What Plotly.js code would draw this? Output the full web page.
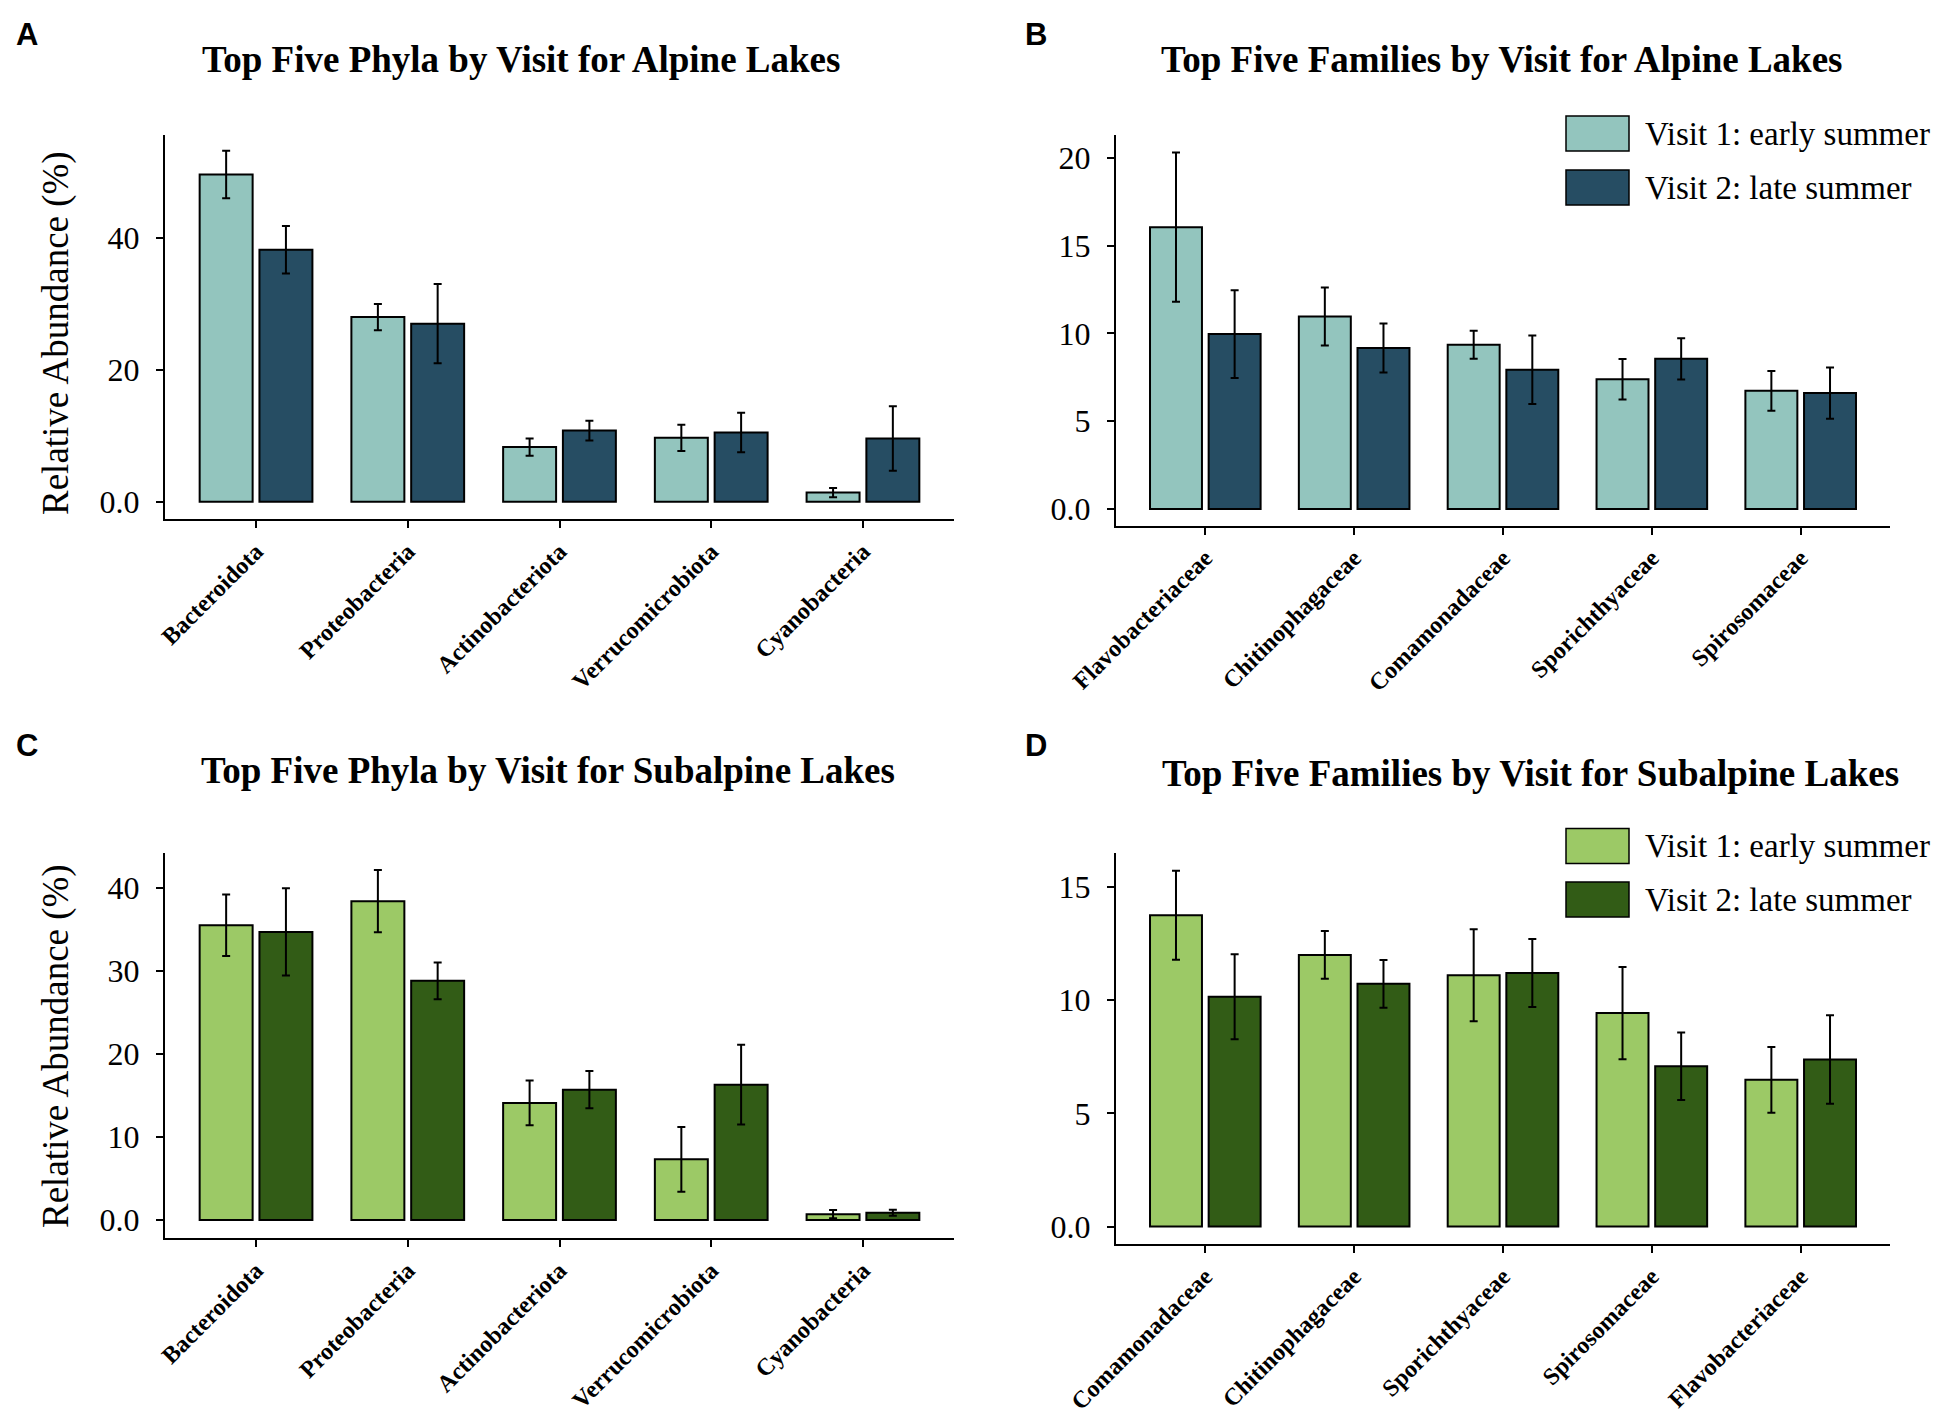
<!DOCTYPE html>
<html>
<head>
<meta charset="utf-8">
<script src="https://cdn.plot.ly/plotly-3.0.1.min.js"></script>
<style>html,body{margin:0;padding:0;background:#fff;}#chart{width:1937px;height:1412px;}</style>
</head>
<body>
<div id="chart"></div>
<script>
// ---- Data ----
const seriesNames = ["Visit 1: early summer", "Visit 2: late summer"];

const phyla = ["Bacteroidota", "Proteobacteria", "Actinobacteriota", "Verrucomicrobiota", "Cyanobacteria"];
const alpineFamilies = ["Flavobacteriaceae", "Chitinophagaceae", "Comamonadaceae", "Sporichthyaceae", "Spirosomaceae"];
const subalpineFamilies = ["Comamonadaceae", "Chitinophagaceae", "Sporichthyaceae", "Spirosomaceae", "Flavobacteriaceae"];

const alpinePhylaV1 = [49.6, 28.0, 8.3, 9.7, 1.4];
const alpinePhylaV1Err = [3.6, 2.0, 1.3, 2.0, 0.7];
const alpinePhylaV2 = [38.2, 27.0, 10.8, 10.5, 9.6];
const alpinePhylaV2Err = [3.6, 6.0, 1.5, 3.0, 4.9];

const alpineFamV1 = [16.05, 10.96, 9.35, 7.39, 6.73];
const alpineFamV1Err = [4.25, 1.65, 0.8, 1.15, 1.13];
const alpineFamV2 = [9.96, 9.17, 7.93, 8.55, 6.6];
const alpineFamV2Err = [2.5, 1.4, 1.95, 1.17, 1.46];

const subPhylaV1 = [35.5, 38.4, 14.1, 7.3, 0.7];
const subPhylaV1Err = [3.7, 3.75, 2.7, 3.9, 0.5];
const subPhylaV2 = [34.7, 28.8, 15.7, 16.3, 0.87];
const subPhylaV2Err = [5.25, 2.2, 2.25, 4.8, 0.37];

const subFamV1 = [13.75, 12.0, 11.1, 9.43, 6.48];
const subFamV1Err = [1.97, 1.05, 2.03, 2.04, 1.45];
const subFamV2 = [10.15, 10.72, 11.2, 7.08, 7.38];
const subFamV2Err = [1.88, 1.05, 1.5, 1.49, 1.95];

const titles = [
  "Top Five Phyla by Visit for Alpine Lakes",
  "Top Five Families by Visit for Alpine Lakes",
  "Top Five Phyla by Visit for Subalpine Lakes",
  "Top Five Families by Visit for Subalpine Lakes"
];
const panelLetters = ["A", "B", "C", "D"];
const yTitle = "Relative Abundance (%)";

const yTickValsA = [0, 20, 40], yTickTextA = ["0.0", "20", "40"];
const yTickValsB = [0, 5, 10, 15, 20], yTickTextB = ["0.0", "5", "10", "15", "20"];
const yTickValsC = [0, 10, 20, 30, 40], yTickTextC = ["0.0", "10", "20", "30", "40"];
const yTickValsD = [0, 5, 10, 15], yTickTextD = ["0.0", "5", "10", "15"];

// ---- Styles ----
const alpineColors = ["#93C5BE", "#264D63"];
const subalpineColors = ["#9CC966", "#325C16"];
const W = 1937, H = 1412;
const serif = "Liberation Serif, Times New Roman, serif";

function barTrace(x, y, err, color, name, xa, ya) {
  return {
    type: "bar", x: x, y: y, name: name, xaxis: xa, yaxis: ya,
    marker: {color: color, line: {color: "#000", width: 2}},
    error_y: {type: "data", array: err, visible: true, color: "#000", thickness: 2, width: 4},
    showlegend: false, hoverinfo: "x+y"
  };
}

const data = [
  barTrace(phyla, alpinePhylaV1, alpinePhylaV1Err, alpineColors[0], seriesNames[0], "x", "y"),
  barTrace(phyla, alpinePhylaV2, alpinePhylaV2Err, alpineColors[1], seriesNames[1], "x", "y"),
  barTrace(alpineFamilies, alpineFamV1, alpineFamV1Err, alpineColors[0], seriesNames[0], "x2", "y2"),
  barTrace(alpineFamilies, alpineFamV2, alpineFamV2Err, alpineColors[1], seriesNames[1], "x2", "y2"),
  barTrace(phyla, subPhylaV1, subPhylaV1Err, subalpineColors[0], seriesNames[0], "x3", "y3"),
  barTrace(phyla, subPhylaV2, subPhylaV2Err, subalpineColors[1], seriesNames[1], "x3", "y3"),
  barTrace(subalpineFamilies, subFamV1, subFamV1Err, subalpineColors[0], seriesNames[0], "x4", "y4"),
  barTrace(subalpineFamilies, subFamV2, subFamV2Err, subalpineColors[1], seriesNames[1], "x4", "y4")
];

function xAxis(domain, anchor) {
  return {
    domain: domain, anchor: anchor, type: "category", range: [-0.6, 4.6],
    showline: true, linecolor: "#000", linewidth: 2, mirror: false,
    ticks: "outside", ticklen: 7, tickwidth: 2, tickcolor: "#000",
    tickangle: -45, tickfont: {family: serif, size: 24, color: "#000", weight: "bold"},
    showgrid: false, zeroline: false, fixedrange: true
  };
}
function yAxis(domain, anchor, range, vals, text) {
  return {
    domain: domain, anchor: anchor, range: range,
    showline: true, linecolor: "#000", linewidth: 2,
    ticks: "outside", ticklen: 7, tickwidth: 2, tickcolor: "#000",
    tickvals: vals, ticktext: text, ticklabelstandoff: 10,
    tickfont: {family: serif, size: 32, color: "#000"},
    showgrid: false, zeroline: false, fixedrange: true
  };
}

const xdL = [165 / W, 954 / W], xdR = [1116 / W, 1890 / W];

const layout = {
  width: W, height: H,
  margin: {l: 0, r: 0, t: 0, b: 0, pad: 0},
  paper_bgcolor: "#fff", plot_bgcolor: "#fff",
  barmode: "group", bargap: 0.212, bargroupgap: 0.114,
  showlegend: false,
  xaxis: xAxis(xdL, "y"),
  yaxis: yAxis([1 - 519 / H, 1 - 135 / H], "x", [-2.6, 55.6], yTickValsA, yTickTextA),
  xaxis2: xAxis(xdR, "y2"),
  yaxis2: yAxis([1 - 525.5 / H, 1 - 135 / H], "x2", [-0.94, 21.3], yTickValsB, yTickTextB),
  xaxis3: xAxis(xdL, "y3"),
  yaxis3: yAxis([1 - 1238 / H, 1 - 853 / H], "x3", [-2.17, 44.2], yTickValsC, yTickTextC),
  xaxis4: xAxis(xdR, "y4"),
  yaxis4: yAxis([1 - 1244 / H, 1 - 853 / H], "x4", [-0.77, 16.5], yTickValsD, yTickTextD),
  annotations: [],
  shapes: []
};

// Titles
const titlePos = [[521, 60], [1502, 60], [548, 771], [1530, 773]];
titles.forEach((t, i) => {
  layout.annotations.push({
    xref: "paper", yref: "paper", x: titlePos[i][0] / W, y: 1 - titlePos[i][1] / H,
    xanchor: "center", yanchor: "middle", showarrow: false,
    text: "<b>" + t + "</b>", font: {family: serif, size: 37, color: "#000"}
  });
});
// Panel letters
const letterPos = [[27, 35], [1036, 35], [27, 745], [1036, 745]];
panelLetters.forEach((L, i) => {
  layout.annotations.push({
    xref: "paper", yref: "paper", x: letterPos[i][0] / W, y: 1 - letterPos[i][1] / H,
    xanchor: "center", yanchor: "middle", showarrow: false,
    text: "<b>" + L + "</b>", font: {family: "Liberation Sans, Arial, sans-serif", size: 31, color: "#000"}
  });
});
// Y-axis titles (left panels)
[[56, 333], [56, 1046]].forEach(p => {
  layout.annotations.push({
    xref: "paper", yref: "paper", x: p[0] / W, y: 1 - p[1] / H,
    xanchor: "center", yanchor: "middle", showarrow: false, textangle: -90,
    text: yTitle, font: {family: serif, size: 37, color: "#000"}
  });
});
// Legends (right panels)
function addLegend(colors, y1, y2) {
  [y1, y2].forEach((yc, k) => {
    layout.shapes.push({
      type: "rect", xref: "paper", yref: "paper",
      x0: 1566 / W, x1: 1629 / W, y0: 1 - (yc - 17.5) / H, y1: 1 - (yc + 17.5) / H,
      fillcolor: colors[k], line: {color: "#000", width: 1.5}
    });
    layout.annotations.push({
      xref: "paper", yref: "paper", x: 1643 / W, y: 1 - yc / H,
      xanchor: "left", yanchor: "middle", showarrow: false,
      text: seriesNames[k], font: {family: serif, size: 33, color: "#000"}
    });
  });
}
addLegend(alpineColors, 133.5, 187.5);
addLegend(subalpineColors, 846, 899.5);

Plotly.newPlot("chart", data, layout, {staticPlot: true, displayModeBar: false});
</script>
</body>
</html>
